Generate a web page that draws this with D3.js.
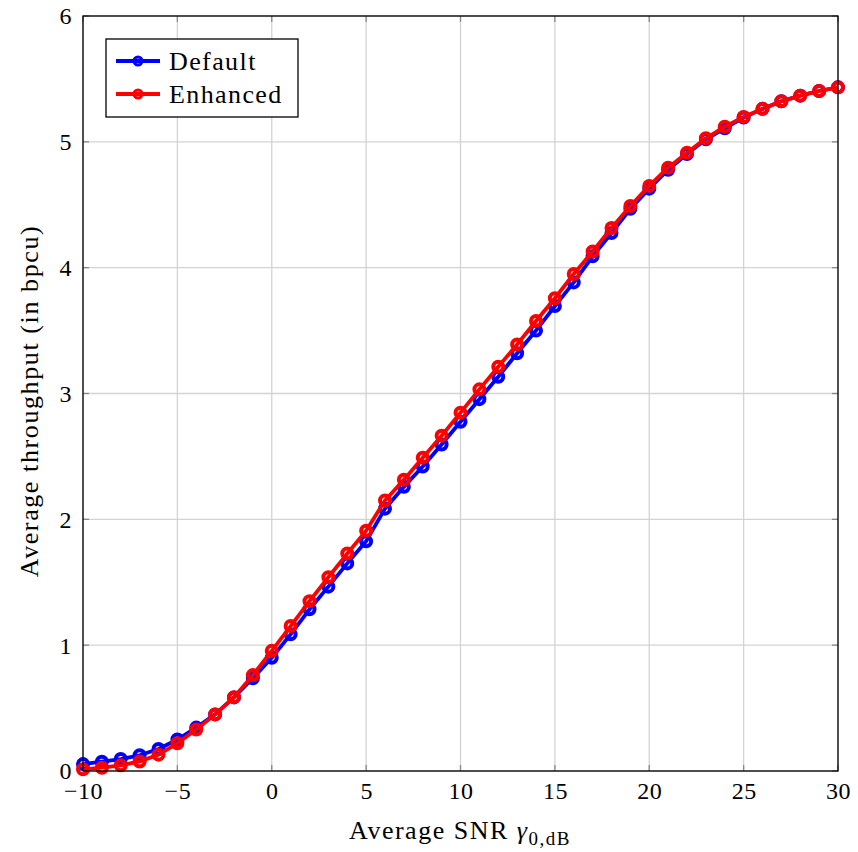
<!DOCTYPE html>
<html>
<head>
<meta charset="utf-8">
<script src="https://cdn.jsdelivr.net/npm/d3@7"></script>
<style>
  html, body { margin: 0; padding: 0; background: #fff; }
  svg text { font-family: "Liberation Serif", "DejaVu Serif", serif; fill: #000; }
</style>
</head>
<body>
<svg id="chart" width="858" height="852"></svg>
<script>
const snr = d3.range(-10, 31, 1);
const defaultVals = [0.055, 0.074, 0.095, 0.125, 0.175, 0.25, 0.345, 0.45, 0.585, 0.737, 0.9,
  1.086, 1.285, 1.465, 1.65, 1.825, 2.085, 2.258, 2.42, 2.595, 2.776,
  2.955, 3.133, 3.32, 3.5, 3.695, 3.883, 4.09, 4.275, 4.468, 4.628,
  4.778, 4.903, 5.02, 5.107, 5.193, 5.262, 5.322, 5.367, 5.404, 5.433];
const enhancedVals = [0.013, 0.026, 0.045, 0.076, 0.13, 0.22, 0.33, 0.45, 0.587, 0.762, 0.955,
  1.152, 1.35, 1.54, 1.728, 1.91, 2.15, 2.315, 2.49, 2.665, 2.848,
  3.033, 3.213, 3.39, 3.576, 3.757, 3.95, 4.128, 4.315, 4.49, 4.65,
  4.795, 4.914, 5.028, 5.12, 5.198, 5.262, 5.322, 5.367, 5.404, 5.433];
const xTicks = [-10, -5, 0, 5, 10, 15, 20, 25, 30];
const yTicks = [0, 1, 2, 3, 4, 5, 6];
const seriesNames = ["Default", "Enhanced"];
const seriesColors = ["#0000ff", "#ff0000"];

const svg = d3.select("#chart");
const L = 83, R = 838, T = 16, B = 771;
const x = d3.scaleLinear().domain([-10, 30]).range([L, R]);
const y = d3.scaleLinear().domain([0, 6]).range([B, T]);

// grid
const g = svg.append("g");
g.selectAll(".gx").data(xTicks).enter().append("line")
  .attr("x1", d => x(d)).attr("x2", d => x(d)).attr("y1", T).attr("y2", B)
  .attr("stroke", "#d3d3d3").attr("stroke-width", 1.3);
g.selectAll(".gy").data(yTicks).enter().append("line")
  .attr("y1", d => y(d)).attr("y2", d => y(d)).attr("x1", L).attr("x2", R)
  .attr("stroke", "#d3d3d3").attr("stroke-width", 1.3);

// tick marks (inside, all sides)
const tk = 6;
xTicks.forEach(d => {
  g.append("line").attr("x1", x(d)).attr("x2", x(d)).attr("y1", B).attr("y2", B - tk).attr("stroke", "#888").attr("stroke-width", 1.3);
  g.append("line").attr("x1", x(d)).attr("x2", x(d)).attr("y1", T).attr("y2", T + tk).attr("stroke", "#888").attr("stroke-width", 1.3);
});
yTicks.forEach(d => {
  g.append("line").attr("y1", y(d)).attr("y2", y(d)).attr("x1", L).attr("x2", L + tk).attr("stroke", "#888").attr("stroke-width", 1.3);
  g.append("line").attr("y1", y(d)).attr("y2", y(d)).attr("x1", R).attr("x2", R - tk).attr("stroke", "#888").attr("stroke-width", 1.3);
});

// axes via d3 for labels
const fmt = d => (d < 0 ? "\u2212" + Math.abs(d) : String(d));
const xAxis = svg.append("g").attr("transform", `translate(0,${B})`)
  .call(d3.axisBottom(x).tickValues(xTicks).tickFormat(fmt).tickSize(0).tickPadding(11));
const yAxis = svg.append("g").attr("transform", `translate(${L},0)`)
  .call(d3.axisLeft(y).tickValues(yTicks).tickFormat(fmt).tickSize(0).tickPadding(11));
[xAxis, yAxis].forEach(a => {
  a.select(".domain").remove();
  a.selectAll("text").style("font-family", '"Liberation Serif", "DejaVu Serif", serif')
    .style("font-size", "24px").style("letter-spacing", "0.5px").attr("fill", "#000");
});
xAxis.selectAll("text").attr("dy", "0.71em");
yAxis.selectAll("text").attr("dy", "0.33em");

// series
const line = d3.line().x(d => x(d[0])).y(d => y(d[1]));
[defaultVals, enhancedVals].forEach((vals, i) => {
  const data = snr.map((s, j) => [s, vals[j]]);
  const sg = svg.append("g");
  sg.append("path").datum(data).attr("d", line)
    .attr("fill", "none").attr("stroke", seriesColors[i]).attr("stroke-width", 3.8).attr("stroke-linejoin", "round");
  sg.selectAll("circle").data(data).enter().append("circle")
    .attr("cx", d => x(d[0])).attr("cy", d => y(d[1])).attr("r", 5)
    .attr("fill", "none").attr("stroke", seriesColors[i]).attr("stroke-width", 4);
});

// frame
svg.append("rect").attr("x", L).attr("y", T).attr("width", R - L).attr("height", B - T)
  .attr("fill", "none").attr("stroke", "#000").attr("stroke-width", 1.3);

// legend
const lg = svg.append("g");
lg.append("rect").attr("x", 106).attr("y", 39).attr("width", 192).attr("height", 78)
  .attr("fill", "#fff").attr("stroke", "#000").attr("stroke-width", 1.3);
seriesNames.forEach((name, i) => {
  const yy = 61 + i * 33;
  lg.append("line").attr("x1", 116).attr("x2", 160).attr("y1", yy).attr("y2", yy)
    .attr("stroke", seriesColors[i]).attr("stroke-width", 3.8);
  lg.append("circle").attr("cx", 138).attr("cy", yy).attr("r", 4)
    .attr("fill", "none").attr("stroke", seriesColors[i]).attr("stroke-width", 3);
  lg.append("text").attr("x", 169).attr("y", yy).attr("dy", "0.33em")
    .style("font-size", "26px").style("letter-spacing", "1.4px").text(name);
});

// axis labels
const xl = svg.append("text").attr("x", 460).attr("y", 839).attr("text-anchor", "middle")
  .style("font-size", "26px").style("letter-spacing", "1.5px");
xl.append("tspan").text("Average SNR ");
xl.append("tspan").style("font-style", "italic").text("\u03b3");
xl.append("tspan").attr("dy", 6).style("font-size", "19px").text("0,dB");

svg.append("text").attr("transform", "translate(38,401) rotate(-90)")
  .attr("text-anchor", "middle").style("font-size", "26px").style("letter-spacing", "1.6px")
  .text("Average throughput (in bpcu)");
</script>
</body>
</html>
